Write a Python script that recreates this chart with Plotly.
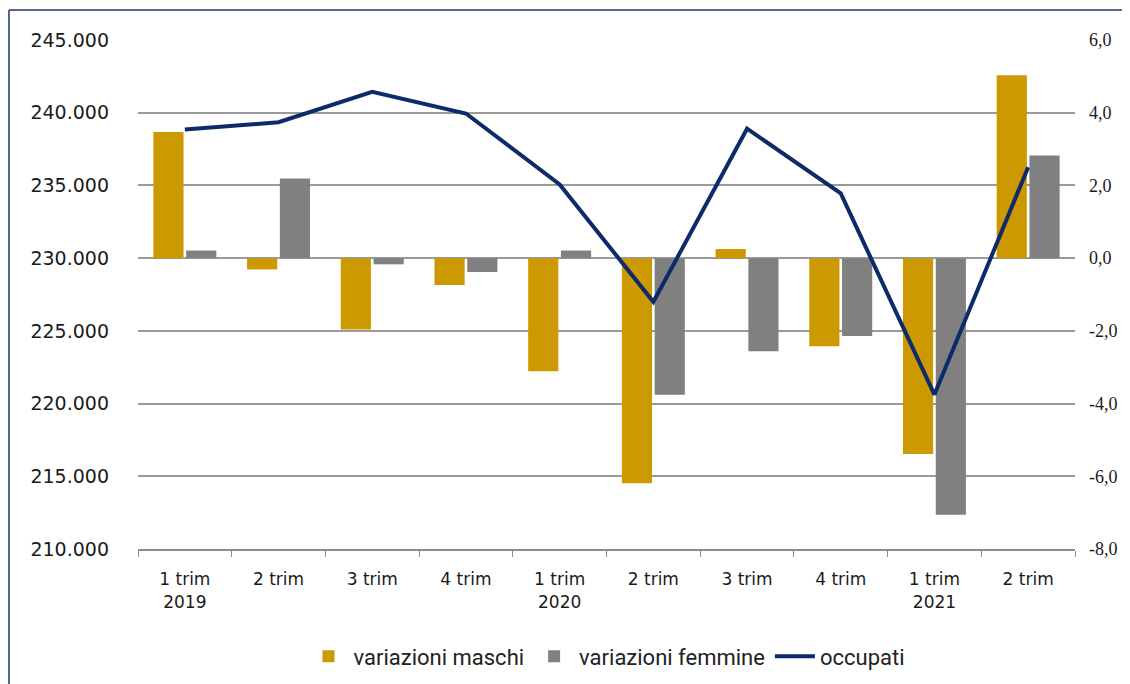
import plotly.graph_objects as go

categories = ["1 trim<br>2019", "2 trim", "3 trim", "4 trim", "1 trim<br>2020",
              "2 trim", "3 trim", "4 trim", "1 trim<br>2021", "2 trim"]
cat_keys = ["2019Q1", "2019Q2", "2019Q3", "2019Q4", "2020Q1",
            "2020Q2", "2020Q3", "2020Q4", "2021Q1", "2021Q2"]

variazioni_maschi = [3.47, -0.31, -1.96, -0.74, -3.11, -6.19, 0.25, -2.42, -5.39, 5.03]
variazioni_femmine = [0.21, 2.19, -0.17, -0.38, 0.21, -3.76, -2.56, -2.14, -7.06, 2.82]
occupati = [238840, 239345, 241430, 239945, 235070, 227000, 238900, 234450, 220620, 236250]

left_ticks = [210000, 215000, 220000, 225000, 230000, 235000, 240000, 245000]
left_labels = ["210.000", "215.000", "220.000", "225.000", "230.000", "235.000", "240.000", "245.000"]
right_ticks = [-8, -6, -4, -2, 0, 2, 4, 6]
right_labels = ["-8,0", "-6,0", "-4,0", "-2,0", "0,0", "2,0", "4,0", "6,0"]

GOLD = "#CC9900"
GRAY = "#808080"
NAVY = "#0D2A6B"

fig = go.Figure()
fig.add_trace(go.Bar(x=cat_keys, y=variazioni_maschi, name="variazioni maschi",
                     marker=dict(color=GOLD, line=dict(width=0)), yaxis="y"))
fig.add_trace(go.Bar(x=cat_keys, y=variazioni_femmine, name="variazioni femmine",
                     marker=dict(color=GRAY, line=dict(width=0)), yaxis="y"))
fig.add_trace(go.Scatter(x=cat_keys, y=occupati, name="occupati", mode="lines",
                         line=dict(color=NAVY, width=4), yaxis="y2"))

fig.update_layout(
    width=1122, height=676,
    paper_bgcolor="white", plot_bgcolor="white",
    margin=dict(l=130, r=55, t=32, b=135, autoexpand=False),
    barmode="group", bargap=0.3, bargroupgap=0.08,
    showlegend=True,
    legend=dict(orientation="h", x=0.5, xanchor="center", y=-0.17, yanchor="top",
                font=dict(family="Roboto, sans-serif", size=22, color="#222222"),
                itemwidth=40, traceorder="normal"),
    xaxis=dict(
        type="category", automargin=False,
        tickvals=cat_keys, ticktext=categories,
        tickson="boundaries", ticks="outside", ticklen=6, tickcolor="#8C8C8C",
        showline=True, linecolor="#8C8C8C", linewidth=2,
        showgrid=False,
        ticklabelstandoff=14,
        tickfont=dict(family="DejaVu Sans, sans-serif", size=17, color="#1A1A1A"),
    ),
    yaxis=dict(
        side="right", range=[-8, 6], automargin=False,
        tickvals=right_ticks, ticktext=right_labels,
        showgrid=True, gridcolor="#9A9A9A", gridwidth=1.5,
        zeroline=False, showline=False, ticks="",
        ticklabelstandoff=13,
        tickfont=dict(family="Liberation Serif, serif", size=18, color="#1A1A1A"),
    ),
    yaxis2=dict(
        side="left", overlaying="y", range=[210000, 245000], automargin=False,
        tickvals=left_ticks, ticktext=left_labels,
        showgrid=False, zeroline=False, showline=False, ticks="",
        ticklabelstandoff=28,
        tickfont=dict(family="DejaVu Sans, sans-serif", size=19, color="#1A1A1A"),
    ),
    shapes=[
        dict(type="line", xref="paper", yref="paper", x0=-0.1377, x1=1.1, y0=1.0589, y1=1.0589,
             line=dict(color="#1F3864", width=1.5)),
        dict(type="line", xref="paper", yref="paper", x0=-0.1377, x1=-0.1377, y0=1.0589, y1=-0.3,
             line=dict(color="#1F3864", width=1.5)),
    ],
)

fig.write_html("out.html")
